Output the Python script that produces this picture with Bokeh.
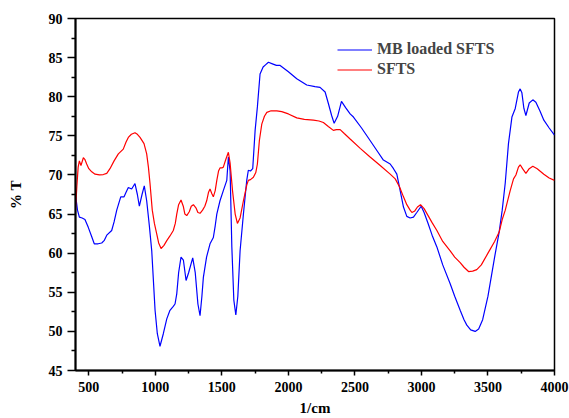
from bokeh.plotting import figure
from bokeh.models import Range1d, FixedTicker, Legend, LegendItem
from bokeh.embed import file_html
from bokeh.resources import INLINE

wavenumber_mb = [400, 415, 429, 450, 471, 496, 520, 541, 570, 597, 615, 635, 672, 690, 710, 740, 765, 780, 797, 822,
                 847, 865, 880, 900, 917, 935, 955, 973, 998, 1015, 1035, 1060, 1086, 1110, 1135, 1148, 1161, 1175,
                 1193, 1211, 1231, 1250, 1281, 1300, 1320, 1336, 1350, 1361, 1385, 1411, 1436, 1450, 1462, 1486, 1511,
                 1537, 1549, 1562, 1575, 1590, 1605, 1620, 1637, 1662, 1687, 1699, 1715, 1732, 1750, 1767, 1787, 1810,
                 1830, 1850, 1880, 1910, 1938, 2000, 2063, 2138, 2200, 2238, 2276, 2301, 2325, 2344, 2370, 2399, 2430,
                 2464, 2489, 2550, 2614, 2670, 2714, 2765, 2790, 2815, 2840, 2865, 2890, 2915, 2940, 2965, 2998, 3020,
                 3050, 3080, 3116, 3160, 3216, 3250, 3291, 3320, 3341, 3370, 3404, 3430, 3460, 3500, 3550, 3584, 3607,
                 3630, 3654, 3680, 3705, 3729, 3742, 3755, 3770, 3785, 3810, 3837, 3860, 3890, 3920, 3960, 4000]
transmittance_mb = [67.5, 65.5, 64.6, 64.5, 64.3, 63.3, 62.2, 61.2, 61.2, 61.3, 61.6, 62.3, 62.9, 64.0, 65.5, 67.2, 67.2,
                    67.8, 68.4, 68.2, 68.9, 67.5, 66.0, 67.5, 68.6, 66.7, 63.5, 60.3, 52.7, 49.7, 48.1, 49.7, 51.6,
                    52.7, 53.2, 53.5, 54.8, 57.5, 59.5, 59.1, 56.5, 57.5, 59.4, 57.5, 53.5, 52.0, 54.5, 56.9, 59.5,
                    61.2, 62.0, 63.5, 65.0, 66.7, 68.0, 69.3, 72.3, 70.5, 60.8, 54.0, 52.1, 54.5, 60.3, 65.0, 69.3,
                    70.6, 70.5, 70.8, 75.7, 78.7, 82.9, 83.8, 84.1, 84.4, 84.2, 84.0, 84.0, 83.2, 82.3, 81.5, 81.3,
                    81.2, 80.6, 79.1, 77.6, 76.6, 77.5, 79.4, 78.6, 77.8, 77.4, 76.0, 74.4, 73.0, 71.9, 71.4, 70.8,
                    70.1, 68.0, 65.9, 64.7, 64.5, 64.6, 65.2, 66.0, 65.2, 63.8, 62.3, 60.8, 58.5, 56.1, 54.5, 52.7,
                    51.5, 50.8, 50.2, 50.0, 50.3, 51.5, 54.5, 59.5, 62.7, 65.5, 69.0, 74.0, 77.4, 78.5, 80.6, 81.0,
                    80.5, 78.5, 77.6, 79.2, 79.6, 79.3, 78.2, 77.0, 76.0, 75.1]

wavenumber_sfts = [400, 410, 420, 429, 441, 459, 470, 484, 500, 522, 547, 580, 609, 635, 659, 690, 722, 759, 780, 797,
                   820, 847, 865, 885, 915, 935, 948, 960, 977, 993, 1010, 1025, 1043, 1065, 1086, 1110, 1135, 1150,
                   1161, 1175, 1193, 1210, 1222, 1236, 1255, 1270, 1286, 1305, 1320, 1336, 1355, 1372, 1386, 1400,
                   1411, 1425, 1436, 1450, 1462, 1475, 1486, 1500, 1511, 1530, 1549, 1562, 1580, 1600, 1617, 1637,
                   1662, 1687, 1699, 1715, 1737, 1755, 1767, 1782, 1800, 1820, 1838, 1870, 1913, 1950, 2000, 2063,
                   2120, 2188, 2230, 2263, 2300, 2338, 2360, 2389, 2420, 2464, 2540, 2614, 2690, 2765, 2803, 2835,
                   2865, 2890, 2915, 2928, 2950, 2970, 2993, 3020, 3050, 3080, 3116, 3160, 3216, 3250, 3291, 3320,
                   3354, 3385, 3416, 3450, 3500, 3550, 3584, 3607, 3630, 3667, 3692, 3710, 3729, 3742, 3760, 3785,
                   3810, 3837, 3870, 3920, 3960, 4000]
transmittance_sfts = [65.5, 68.5, 71.0, 71.8, 71.2, 72.2, 72.0, 71.4, 70.8, 70.4, 70.1, 70.0, 70.05, 70.2, 70.8, 71.8,
                      72.7, 73.3, 74.2, 74.8, 75.2, 75.4, 75.2, 74.8, 74.0, 72.7, 71.0, 68.9, 65.5, 63.8, 62.5, 61.3,
                      60.6, 61.0, 61.6, 62.2, 62.9, 63.8, 65.0, 66.2, 66.8, 66.0, 65.0, 64.8, 65.3, 66.0, 66.2, 65.8,
                      65.2, 65.1, 65.5, 66.0, 66.7, 67.8, 68.2, 67.6, 67.2, 68.0, 69.3, 70.5, 70.9, 70.9, 71.0, 72.0,
                      72.9, 71.5, 68.0, 65.0, 63.8, 64.5, 66.7, 68.7, 69.3, 69.4, 69.7, 70.3, 71.4, 74.4, 76.5, 77.5,
                      78.0, 78.2, 78.2, 78.1, 77.8, 77.3, 77.1, 77.0, 76.9, 76.7, 76.2, 75.7, 75.8, 75.8, 75.3, 74.6,
                      73.4, 72.3, 71.2, 70.1, 69.5, 68.5, 67.2, 66.2, 65.5, 65.2, 65.4, 65.9, 66.2, 65.7, 64.8, 63.9,
                      62.9, 61.5, 60.3, 59.5, 58.8, 58.2, 57.65, 57.7, 57.9, 58.5, 60.0, 61.5, 62.7, 64.3, 65.5, 68.0,
                      69.5, 70.0, 71.0, 71.3, 70.8, 70.2, 70.8, 71.1, 70.8, 70.1, 69.6, 69.3]

x_major_ticks = [500, 1000, 1500, 2000, 2500, 3000, 3500, 4000]
x_minor_ticks = [750, 1250, 1750, 2250, 2750, 3250, 3750]
y_major_ticks = [45, 50, 55, 60, 65, 70, 75, 80, 85, 90]
y_minor_ticks = [47.5, 52.5, 57.5, 62.5, 67.5, 72.5, 77.5, 82.5, 87.5]
series_labels = ["MB loaded SFTS", "SFTS"]
x_title = "1/cm"
y_title = "% T"

FONT = "Liberation Serif"

p = figure(width=569, height=418, output_backend="svg", toolbar_location=None,
           x_range=Range1d(400, 4000), y_range=Range1d(45, 90),
           min_border_left=75, min_border_right=15, min_border_top=18, min_border_bottom=47,
           background_fill_color="white", border_fill_color="white")

p.xgrid.visible = False
p.ygrid.visible = False
p.outline_line_color = "black"
p.outline_line_width = 1.5

r_mb = p.line(wavenumber_mb, transmittance_mb, line_color="#0000ff", line_width=1.2)
r_sf = p.line(wavenumber_sfts, transmittance_sfts, line_color="#ff0000", line_width=1.2)

p.xaxis.ticker = FixedTicker(ticks=x_major_ticks, minor_ticks=x_minor_ticks)
p.yaxis.ticker = FixedTicker(ticks=y_major_ticks, minor_ticks=y_minor_ticks)

for ax in (p.xaxis[0], p.yaxis[0]):
    ax.axis_line_color = "black"
    ax.axis_line_width = 2
    ax.major_tick_line_color = "black"
    ax.minor_tick_line_color = "black"
    ax.major_tick_line_width = 1.5
    ax.minor_tick_line_width = 1.5
    ax.major_tick_in = 0
    ax.minor_tick_in = 0
    ax.major_label_text_font = FONT
    ax.major_label_text_font_style = "bold"
    ax.major_label_text_font_size = "14px"
    ax.major_label_text_color = "black"
    ax.axis_label_text_font = FONT
    ax.axis_label_text_font_style = "bold"
    ax.axis_label_text_font_size = "15px"
    ax.axis_label_text_color = "black"

p.xaxis.major_tick_out = 5
p.xaxis.minor_tick_out = 3
p.yaxis.major_tick_out = 8
p.yaxis.minor_tick_out = 4
p.xaxis.major_label_standoff = 6
p.yaxis.major_label_standoff = 5
p.xaxis.axis_label = x_title
p.xaxis.axis_label_standoff = 5
p.yaxis.axis_label = y_title
p.yaxis.axis_label_standoff = 22

legend = Legend(items=[LegendItem(label=series_labels[0], renderers=[r_mb]),
                       LegendItem(label=series_labels[1], renderers=[r_sf])],
                location=(262, 292), padding=0, margin=0, spacing=2,
                glyph_width=35, glyph_height=17, label_height=17, label_standoff=5,
                label_text_font=FONT, label_text_font_style="bold", label_text_font_size="16px",
                background_fill_alpha=0, border_line_alpha=0)
p.add_layout(legend)

open("out.html", "w").write(file_html(p, INLINE))
